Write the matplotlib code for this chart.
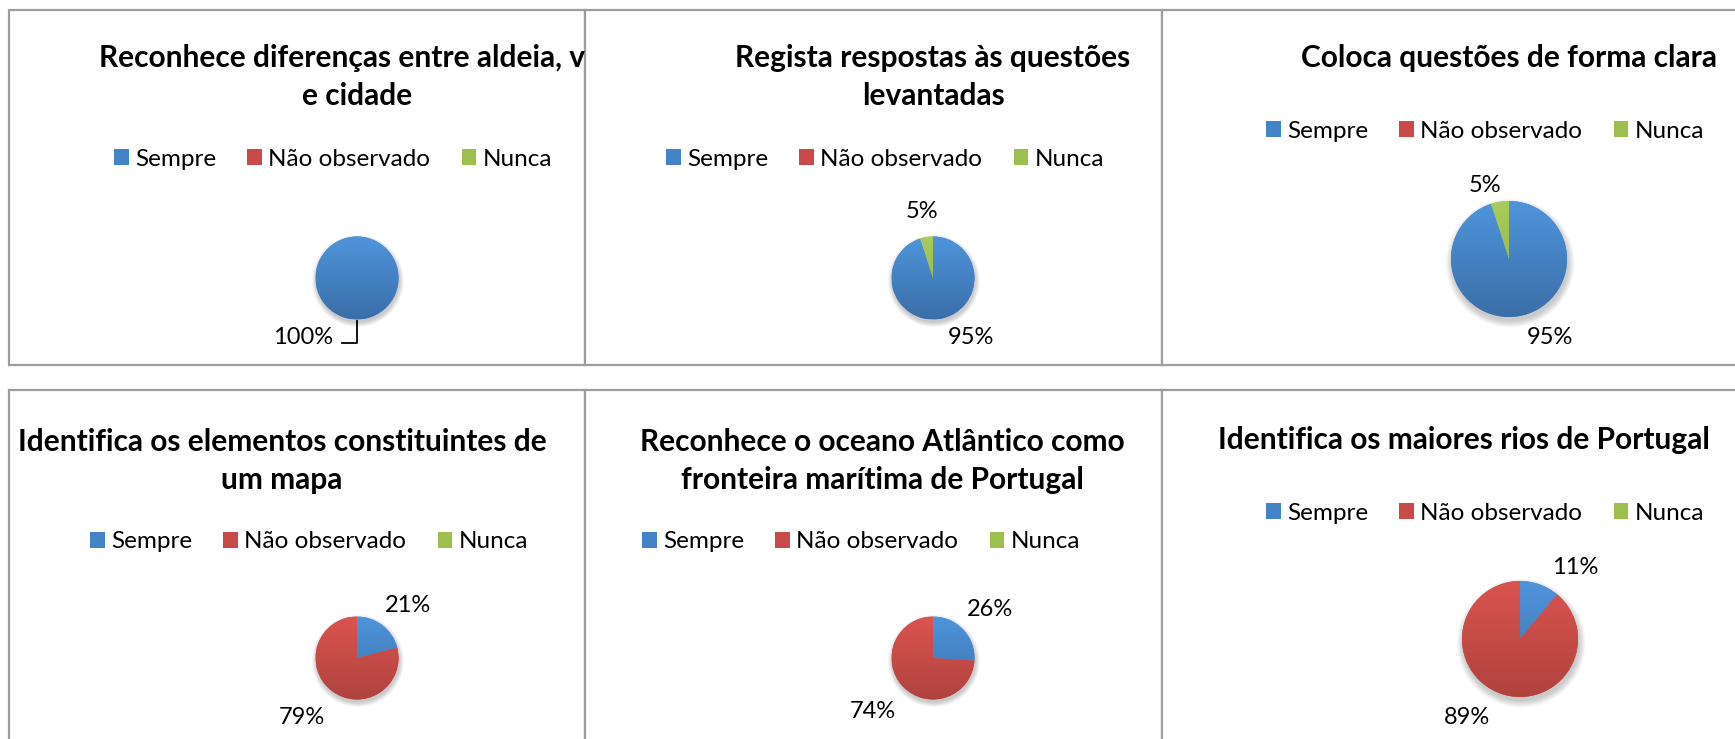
import numpy as np
import matplotlib.pyplot as plt
from matplotlib.patches import Rectangle, Circle
from matplotlib.colors import LinearSegmentedColormap

plt.rcParams['font.family'] = ['Lato', 'DejaVu Sans']

W, H = 1735, 739

categories = ['Sempre', 'Não observado', 'Nunca']
titles = [
    'Reconhece diferenças entre aldeia, vila\ne cidade',
    'Regista respostas às questões\nlevantadas',
    'Coloca questões de forma clara',
    'Identifica os elementos constituintes de\num mapa',
    'Reconhece o oceano Atlântico como\nfronteira marítima de Portugal',
    'Identifica os maiores rios de Portugal',
]
sempre = [100, 95, 95, 21, 26, 11]
nao_observado = [0, 0, 0, 79, 74, 89]
nunca = [0, 5, 5, 0, 0, 0]

# slice colours: (flat, top of gradient, bottom of gradient)
colors = [('#4583c8', '#4f95dc', '#3a6ea8'),
          ('#c94b47', '#da544f', '#b0423e'),
          ('#9dbf50', '#a9cd5a', '#8aa947')]

# layout in pixels
cell_x = [9, 585, 1162, 1760]
cell_y = [(10, 365), (390, 790)]
title_xy = [(357, 58), (933, 58), (1509, 58), (282, 442), (882, 442), (1464, 440)]
legend_xy = [(333, 159), (885, 159), (1485, 131), (309, 542), (861, 542), (1485, 513)]
pie_xyr = [(357, 278, 41.5), (933, 278, 41.5), (1509, 259, 58),
           (357, 658, 41.5), (933, 658, 41.5), (1520, 639, 58)]
label_xy = [
    [(303, 337), None, None],
    [(971, 337), None, (922, 212)],
    [(1550, 337), None, (1485, 185)],
    [(408, 605), (302, 717), None],
    [(990, 610), (873, 711), None],
    [(1575, 567), (1467, 717), None],
]

fig = plt.figure(figsize=(W / 100, H / 100), dpi=100)
bg = fig.add_axes([0, 0, 1, 1])
bg.set_xlim(0, W)
bg.set_ylim(H, 0)
bg.axis('off')

grad = np.linspace(0, 1, 256).reshape(-1, 1)
pad = 1.3

for i in range(6):
    row, col = divmod(i, 3)
    x0, x1 = cell_x[col], cell_x[col + 1]
    y0, y1 = cell_y[row]
    cell = Rectangle((x0, y0), x1 - x0, y1 - y0, facecolor='white',
                     edgecolor='#9d9d9d', lw=1.6, zorder=1)
    bg.add_patch(cell)
    clip = Rectangle((x0, y0), x1 - x0, y1 - y0, transform=bg.transData)

    # titles are cut off at the cell border
    tx, ty = title_xy[i]
    for k, line in enumerate(titles[i].split('\n')):
        t = bg.text(tx, ty + k * 38, line, ha='center', va='center',
                    fontsize=21.5, fontweight='bold', color='black', zorder=3,
                    clip_on=True)
        t.set_clip_path(clip)

    vals = [sempre[i], nao_observado[i], nunca[i]]
    cx, cy, r = pie_xyr[i]
    ax = fig.add_axes([(cx - pad * r) / W, 1 - (cy + pad * r) / H,
                       2 * pad * r / W, 2 * pad * r / H])
    # soft drop shadow
    for s in range(7):
        ax.add_patch(Circle((0.02, -0.07), 1.0 + 0.018 * s, color='black',
                            alpha=0.03, lw=0, zorder=0))
    wedges, _ = ax.pie(vals, colors=[c[0] for c in colors], startangle=90,
                       counterclock=False, radius=1,
                       wedgeprops=dict(linewidth=0))
    for w, c in zip(wedges, colors):
        w.set_zorder(1)
        cmap = LinearSegmentedColormap.from_list('g', [c[1], c[2]])
        im = ax.imshow(grad, extent=(-1, 1, -1, 1), cmap=cmap, aspect='auto',
                       zorder=2, interpolation='bilinear')
        im.set_clip_path(w)
    ax.set_xlim(-pad, pad)
    ax.set_ylim(-pad, pad)
    ax.axis('off')

    fig.legend(wedges, categories, loc='center', ncol=3, frameon=False,
               bbox_to_anchor=(legend_xy[i][0] / W, 1 - legend_xy[i][1] / H),
               fontsize=17.5, handlelength=0.6, handleheight=0.6,
               handletextpad=0.25, columnspacing=1.3, borderpad=0)

    for v, pos in zip(vals, label_xy[i]):
        if pos is None:
            continue
        bg.text(pos[0], pos[1], f'{v}%', ha='center', va='center',
                fontsize=17, color='black', zorder=3)

# leader line for the 100% label
bg.plot([357, 357, 342], [321, 343, 343], color='black', lw=1.3, zorder=3)

fig.savefig('out.png', dpi=100)
